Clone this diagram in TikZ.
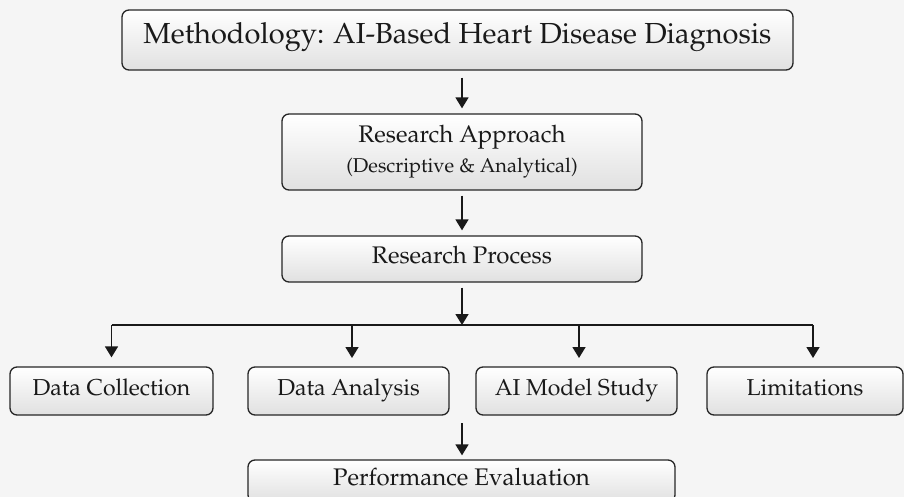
\documentclass[tikz,border=0pt]{standalone}
\usepackage[T1]{fontenc}
\usepackage{mathpazo}
\usetikzlibrary{arrows.meta}
\begin{document}
\begin{tikzpicture}[x=1pt,y=-1pt,
  box/.style={draw=black!85,line width=1.3pt,rounded corners=7pt,top color=white,bottom color=black!12,
    align=center,inner sep=0pt,text=black!90},
  one/.style={text height=0.8em,text depth=0em},
  arr/.style={line width=1.6pt,draw=black!90,-{Triangle[length=11pt,width=13pt]}},
  bus/.style={line width=1.6pt,draw=black!90}]
\clip (0,0) rectangle (904,497);
\fill[black!4] (0,0) rectangle (904,497);
\node[box,one,minimum width=671pt,minimum height=60pt,font=\fontsize{29}{34}\selectfont] (title) at (457.5,40) {Methodology: AI-Based Heart Disease Diagnosis};
\node[box,minimum width=360pt,minimum height=76pt] (ra) at (462,152) {{\fontsize{24}{30}\selectfont Research Approach}\\[8pt]{\fontsize{20}{24}\selectfont (Descriptive \& Analytical)}};
\node[box,one,minimum width=360pt,minimum height=46pt,font=\fontsize{24}{28}\selectfont] (rp) at (462,259) {Research Process};
\node[box,one,minimum width=203pt,minimum height=48pt,font=\fontsize{23}{28}\selectfont] (dc) at (111.5,391) {Data Collection};
\node[box,one,minimum width=201pt,minimum height=48pt,font=\fontsize{23}{28}\selectfont] (da) at (348.5,391) {Data Analysis};
\node[box,one,minimum width=201pt,minimum height=48pt,font=\fontsize{23}{28}\selectfont] (ai) at (576.5,391) {AI Model Study};
\node[box,one,minimum width=196pt,minimum height=48pt,font=\fontsize{23}{28}\selectfont] (lim) at (805,391) {Limitations};
\node[box,one,minimum width=427pt,minimum height=42pt,font=\fontsize{24}{28}\selectfont] (pe) at (461.5,481) {Performance Evaluation};
\coordinate (busy) at (462,325);
\coordinate (pestart) at (462,423);
\draw[arr,shorten <=7pt,shorten >=5pt] (title.south -| ra.north) -- (ra.north);
\draw[arr,shorten <=5pt,shorten >=5pt] (ra.south) -- (rp.north);
\draw[arr,shorten <=5pt] (rp.south) -- (busy);
\draw[bus] (busy -| dc.north) -- (busy -| 813,0);
\draw[arr,shorten >=9pt] (busy -| dc.north) -- (dc.north);
\draw[arr,shorten >=9pt] (busy -| 352,0) -- (352,367);
\draw[arr,shorten >=9pt] (busy -| 579,0) -- (579,367);
\draw[arr,shorten >=9pt] (busy -| 813,0) -- (813,367);
\draw[arr,shorten >=4pt] (pestart) -- (pe.north -| pestart);
\end{tikzpicture}
\end{document}
